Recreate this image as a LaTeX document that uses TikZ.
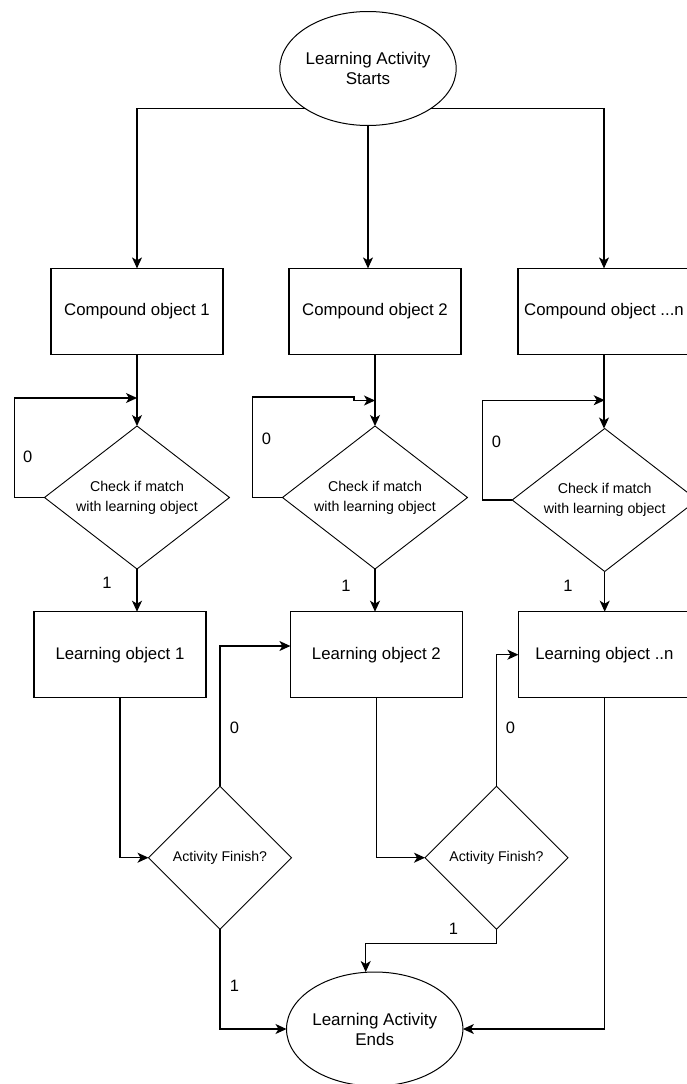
\documentclass[tikz,border=0pt]{standalone}
\usepackage{fontspec}
\setmainfont{Liberation Sans}
\usetikzlibrary{shapes.geometric,arrows.meta}

\tikzset{
  every node/.style={outer sep=0pt, inner sep=0pt, align=center, text=black},
  boxnode/.style={draw, rectangle, minimum width=172pt, minimum height=86pt,
    line width=1.1pt, font=\fontsize{16.8}{20}\selectfont},
  oval/.style={draw, ellipse, minimum width=173pt, minimum height=114pt,
    line width=1pt, font=\fontsize{17}{20}\selectfont},
  check/.style={draw, diamond, aspect=1.3, minimum width=185pt, minimum height=143pt,
    line width=0.9pt, font=\fontsize{14.2}{20}\selectfont},
  finish/.style={draw, diamond, minimum width=143pt, minimum height=143pt,
    line width=0.9pt, font=\fontsize{14.1}{20}\selectfont},
  lbl/.style={font=\fontsize{16.5}{20}\selectfont},
  link/.style={line width=1.1pt, -{Stealth[length=11pt,width=10pt,inset=3pt]}},
}

\begin{document}
\begin{tikzpicture}[x=1pt, y=-1pt]
\clip (0,0) rectangle (687,1084);
\fill[white] (0,0) rectangle (687,1084);

% start and end
\node[oval] (start) at (368,68.5) {Learning Activity\\Starts};
\node[oval] (end) at (374.7,1029) {Learning Activity\\Ends};

% compound objects
\node[boxnode] (c1) at (137,311.4) {Compound object 1};
\node[boxnode] (c2) at (375,311.4) {Compound object 2};
\node[boxnode] (c3) at (604,311.4) {Compound object ...n};

% match checks
\node[check] (d1) at (137,497.5) {Check if match\\with learning object};
\node[check] (d2) at (375,497.5) {Check if match\\with learning object};
\node[check] (d3) at (604.7,500) {Check if match\\with learning object};

% learning objects
\node[boxnode] (l1) at (120,654.7) {Learning object 1};
\node[boxnode] (l2) at (376.4,654.7) {Learning object 2};
\node[boxnode] (l3) at (604.4,654.7) {Learning object ..n};

% finish checks
\node[finish] (f1) at (220,857.7) {Activity Finish?};
\node[finish] (f2) at (496.5,857.7) {Activity Finish?};

% start to compound objects
\draw[link] (start.south west) -| (c1);
\draw[link] (start.south east) -| (c3);
\draw[link] (start.south) -- (start.south |- c2.north);

% compound objects to checks
\draw[link] (c1) -- (d1);
\draw[link] (c2.south) -- (c2.south |- d2.north);
\draw[link] (c3.south) -- (c3.south |- d3.north);

% retry loops
\draw[link] (d1.west) -- ++(-30,0) |- ([yshift=28pt]d1.north);
\draw[link] (d2.west) -- ++(-30,0) |- ([xshift=-21pt,yshift=29pt]d2.north)
  |- ([yshift=25.5pt]d2.north);
\draw[link] (d3.west) -- ++(-30,0) |- ([yshift=28.3pt]d3.north);

% checks to learning objects
\draw[link] (d1.south) -- (d1.south |- l1.north);
\draw[link] (d2.south) -- (d2.south |- l2.north);
\draw[link] (d3.south) -- (d3.south |- l3.north);

% learning objects to finish checks
\draw[link] (l1) |- (f1);
\draw[link] (l2) |- (f2);

% not finished: next learning object
\draw[link] (f1.north) |- ([yshift=8.7pt]l2.west);
\draw[link] (f2.north) |- (l3.west);

% finished
\draw[link] (f1.south) |- (end.west);
\draw[link] (f2.south) -- ++(0,14.3) -| ([xshift=-9pt]end.north);
\draw[link] (l3.south) |- (end.east);

% branch labels
\node[lbl] (z1) at (27.6,456.7) {0};
\node[lbl] (z2) at (266.4,439) {0};
\node[lbl] (z3) at (496.5,442) {0};
\node[lbl] (o1) at (107,582.7) {1};
\node[lbl] (o2) at (346,586) {1};
\node[lbl] (o3) at (568,586) {1};
\node[lbl] (z4) at (234.4,728.3) {0};
\node[lbl] (z5) at (510.5,728.3) {0};
\node[lbl] (o4) at (234.4,986) {1};
\node[lbl] (o5) at (453.5,929) {1};
\end{tikzpicture}
\end{document}
